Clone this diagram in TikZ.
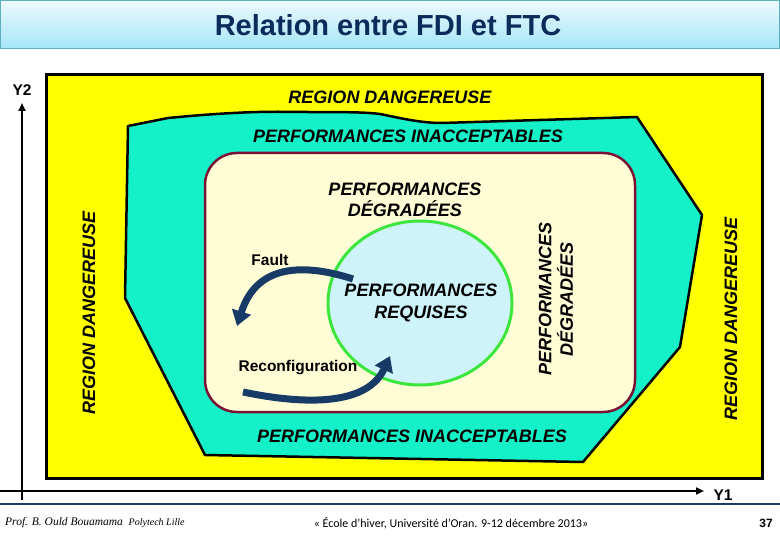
\documentclass[tikz,border=0pt]{standalone}
\usepackage{fontspec}
\setmainfont{Liberation Sans}
\newfontfamily\calib{Carlito}
\newfontfamily\serifit{Liberation Serif}
\usetikzlibrary{arrows.meta,shapes.geometric}
\definecolor{yel}{HTML}{FFFF00}
\definecolor{teal2}{HTML}{14F0C8}
\definecolor{cream}{HTML}{FFFDD5}
\definecolor{maroon2}{HTML}{7A1238}
\definecolor{lblue}{HTML}{CFF3FB}
\definecolor{gr}{HTML}{3CE63C}
\definecolor{navy}{HTML}{173B66}
\definecolor{titlec}{HTML}{0B2B5B}
\definecolor{bartop}{HTML}{EEF9FE}
\definecolor{barbot}{HTML}{A6E6F7}
\definecolor{barline}{HTML}{5FAFC3}
\begin{document}
\begin{tikzpicture}[x=1pt,y=-1pt,
  lblreg/.style={font=\fontsize{18}{21.5}\selectfont\bfseries\itshape, inner sep=0pt, align=center},
  small/.style={font=\fontsize{15.5}{18}\selectfont\bfseries, inner sep=0pt},
  flow/.style={navy, line width=7pt, -{Triangle[width=19pt,length=15pt]}},
  axis/.style={line width=2.5pt, -{Triangle[width=7pt,length=8pt]}}]
\useasboundingbox (0,0) rectangle (780,540);
\fill[white] (0,0) rectangle (780,540);
% title bar
\shade[top color=bartop, bottom color=barbot] (0,0) rectangle (780,48);
\draw[barline, line width=0.8pt] (0,0.4) rectangle (779.6,48);
\node (title) at (388,25) {\fontsize{29}{34}\selectfont\bfseries\color{titlec}Relation entre FDI et FTC};
% yellow region
\draw[line width=3pt, fill=yel] (46,75) rectangle (762,478);
% teal polygon
\draw[line width=2.5pt, fill=teal2, line join=round]
  (128,126) -- (168,118) .. controls (220,113) and (260,111) .. (295,112)
  .. controls (340,112) and (365,112) .. (380,114) .. controls (400,118) and (420,123) .. (442,123)
  -- (637,117) -- (702,215) -- (680,347) -- (583,462) -- (205,455) -- (125,298) -- cycle;
% cream rounded rect
\draw[line width=2.5pt, draw=maroon2, fill=cream, rounded corners=32pt] (205,153) rectangle (635,412);
% circle
\node[ellipse, draw=gr, line width=3pt, fill=lblue, minimum width=184pt, minimum height=164pt] (req) at (420,303) {};
% axes
\draw[axis] (22,500) -- (22,103);
\draw[axis] (0,491) -- (704,491);
\node[small] (y2) at (22,90) {Y2};
\node[small] (y1) at (723,495) {Y1};
% texts
\node[lblreg] (rdtop) at (390,97) {REGION DANGEREUSE};
\node[lblreg] (pitop) at (408,136) {PERFORMANCES INACCEPTABLES};
\node[lblreg] (pibot) at (412,436) {PERFORMANCES INACCEPTABLES};
\node[lblreg, rotate=90] (rdleft) at (89,313) {REGION DANGEREUSE};
\node[lblreg, rotate=90] (rdright) at (731,319) {REGION DANGEREUSE};
\node[lblreg] (pd) at (405,200) {PERFORMANCES\\DÉGRADÉES};
\node[lblreg] (pr) at (421,303) {PERFORMANCES\\REQUISES};
\node[lblreg, rotate=90] (pdv) at (556,299) {PERFORMANCES\\DÉGRADÉES};
\node[small] (fault) at (270,260) {Fault};
\node[small] (reconf) at (298,368) {Reconfiguration};
% arrows
\coordinate (fs) at (353,279);
\coordinate (fe) at (237,326);
\coordinate (rs) at (243,392);
\coordinate (re) at (390,356);
\draw[flow] (fs) .. controls (300,262) and (256,266) .. (fe);
\draw[flow] (rs) .. controls (310,406) and (368,404) .. (re);
% footer
\draw[navy, line width=2.5pt] (0,504) -- (780,504);
\node[anchor=west, inner sep=0pt, font=\serifit\itshape\fontsize{11.5}{13}\selectfont] (auth) at (5,523) {Prof. B. Ould Bouamama \ {\fontsize{10}{12}\selectfont Polytech Lille}};
\node[inner sep=0pt, font=\calib\fontsize{12}{14}\selectfont] (conf) at (451,523) {« École d’hiver, Université d’Oran. 9-12 décembre 2013»};
\node[inner sep=0pt, font=\bfseries\fontsize{12}{14}\selectfont] (num) at (766,523) {37};
\end{tikzpicture}
\end{document}
